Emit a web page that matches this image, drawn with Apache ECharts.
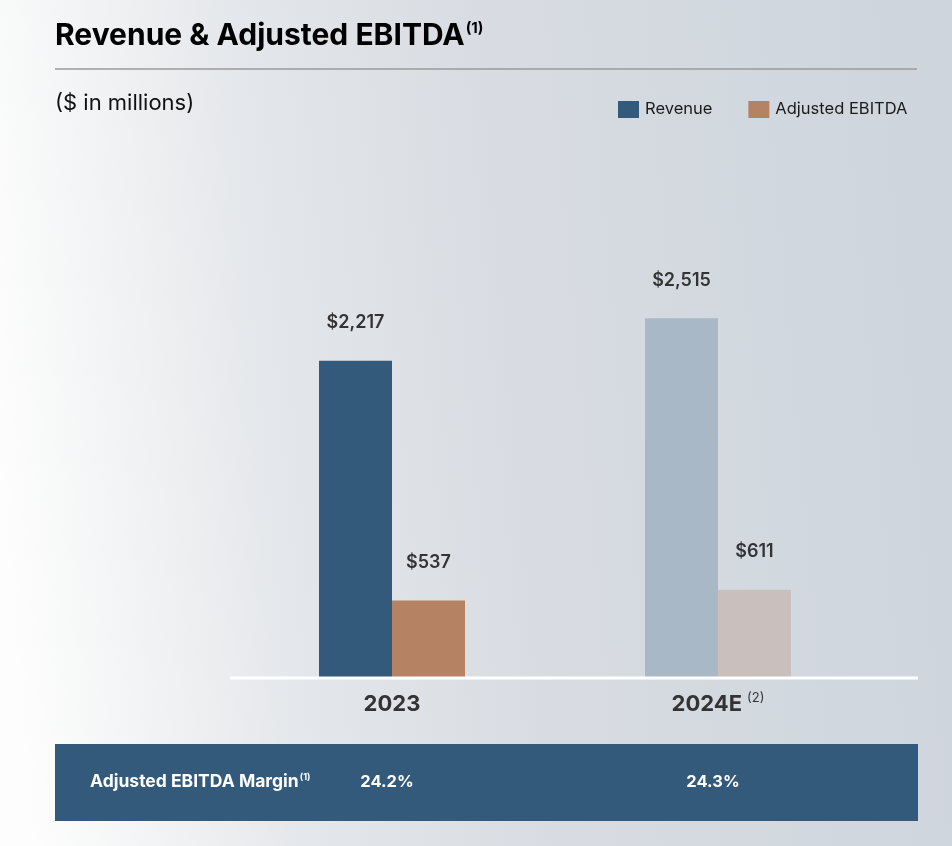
<!DOCTYPE html>
<html>
<head>
<meta charset="utf-8">
<script src="https://cdn.jsdelivr.net/npm/echarts@6/dist/echarts.min.js"></script>
<style>
html,body{margin:0;padding:0;}
#chart{width:952px;height:846px;}
</style>
</head>
<body>
<div id="chart"></div>
<script>
const categories = ['2023', '2024E'];
const categoryNotes = ['', '(2)'];
const revenue = [2217, 2515];
const ebitda = [537, 611];
const margins = ['24.2%', '24.3%'];
const seriesNames = ['Revenue', 'Adjusted EBITDA'];

const FONT = 'Inter, Roboto, sans-serif';
const revColors = ['#335a7a', '#a9b8c6'];
const ebColors = ['#b58263', '#c9bfbd'];

const chart = echarts.init(document.getElementById('chart'), null, {renderer: 'canvas'});

function fmt(v) { return '$' + v.toLocaleString('en-US'); }

const labelStyle = {
  show: true,
  position: 'top',
  distance: 29,
  fontFamily: FONT,
  fontSize: 18,
  fontWeight: 600,
  color: '#333333',
  formatter: p => fmt(p.value)
};

const option = {
  backgroundColor: {
    type: 'linear', x: 0, y: 0.55, x2: 1, y2: 0.45,
    colorStops: [
      {offset: 0, color: '#fdfdfd'},
      {offset: 0.12, color: '#f3f4f5'},
      {offset: 0.3, color: '#e3e6ea'},
      {offset: 0.55, color: '#d8dce2'},
      {offset: 1, color: '#ced5dd'}
    ]
  },
  animation: false,
  title: [
    {
      text: '{m|Revenue & Adjusted EBITDA}{s|(1)}',
      left: 55, top: 18, padding: 0,
      textStyle: {
        rich: {
          m: {fontFamily: FONT, fontSize: 30, fontWeight: 700, color: '#000000', lineHeight: 36},
          s: {fontFamily: FONT, fontSize: 15, fontWeight: 700, color: '#000000', lineHeight: 36, verticalAlign: 'top', padding: [3, 0, 0, 1]}
        }
      }
    },
    {
      text: '($ in millions)',
      left: 55, top: 90, padding: 0,
      textStyle: {fontFamily: FONT, fontSize: 22, fontWeight: 400, color: '#111111', lineHeight: 26}
    }
  ],
  legend: {
    left: 613, top: 96,
    itemWidth: 21, itemHeight: 17, itemGap: 36,
    icon: 'rect',
    data: seriesNames,
    textStyle: {fontFamily: FONT, fontSize: 16.5, color: '#1a1a1a', padding: [0, 0, 0, 1]}
  },
  grid: {left: 229, width: 652, top: 249, bottom: 169},
  xAxis: {
    type: 'category',
    data: categories,
    axisLine: {show: false},
    axisTick: {show: false},
    axisLabel: {
      margin: 15,
      formatter: (v, i) => categoryNotes[i] ? '{c|' + v + '}{s|' + categoryNotes[i] + '}' : '{c|' + v + '}',
      rich: {
        c: {fontFamily: FONT, fontSize: 22, fontWeight: 700, color: '#333333', lineHeight: 24},
        s: {fontFamily: FONT, fontSize: 13, fontWeight: 400, color: '#333333', lineHeight: 24, verticalAlign: 'top', padding: [0, 0, 0, 5]}
      }
    }
  },
  yAxis: {type: 'value', min: 0, max: 3000, show: false, splitLine: {show: false}},
  series: [
    {
      name: seriesNames[0], type: 'bar', barWidth: 73, barGap: '0%',
      itemStyle: {color: revColors[0]},
      label: labelStyle,
      data: revenue.map((v, i) => ({value: v, itemStyle: {color: revColors[i]}}))
    },
    {
      name: seriesNames[1], type: 'bar', barWidth: 73, barGap: '0%',
      itemStyle: {color: ebColors[0]},
      label: labelStyle,
      data: ebitda.map((v, i) => ({value: v, itemStyle: {color: ebColors[i]}}))
    }
  ]
};

chart.setOption(option);

const baseY = chart.convertToPixel({yAxisIndex: 0}, 0);
const graphics = [
  {type: 'line', shape: {x1: 55, y1: 69, x2: 917, y2: 69}, style: {stroke: '#9a9a9a', lineWidth: 1.5}, z: 10},
  {type: 'line', shape: {x1: 230, y1: baseY + 1, x2: 918, y2: baseY + 1}, style: {stroke: '#ffffff', lineWidth: 3}, z: 10},
  {type: 'rect', shape: {x: 55, y: 744, width: 863, height: 77}, style: {fill: '#335a7a'}, z: 5},
  {type: 'text', x: 90, y: 782, z: 6,
    style: {
      text: '{m|Adjusted EBITDA Margin}{s|(1)}',
      verticalAlign: 'middle', align: 'left',
      rich: {
        m: {fontFamily: FONT, fontSize: 17.5, fontWeight: 700, fill: '#ffffff', lineHeight: 22},
        s: {fontFamily: FONT, fontSize: 9, fontWeight: 700, fill: '#ffffff', lineHeight: 22, verticalAlign: 'top', padding: [2, 0, 0, 1]}
      }
    }
  }
];
categories.forEach((c, i) => {
  const x = chart.convertToPixel({xAxisIndex: 0}, c);
  graphics.push({
    type: 'text', x: x - 5, y: 782, z: 6,
    style: {text: margins[i], fontFamily: FONT, fontSize: 16.5, fontWeight: 700, fill: '#ffffff', align: 'center', verticalAlign: 'middle'}
  });
});
chart.setOption({graphic: graphics});
</script>
</body>
</html>
